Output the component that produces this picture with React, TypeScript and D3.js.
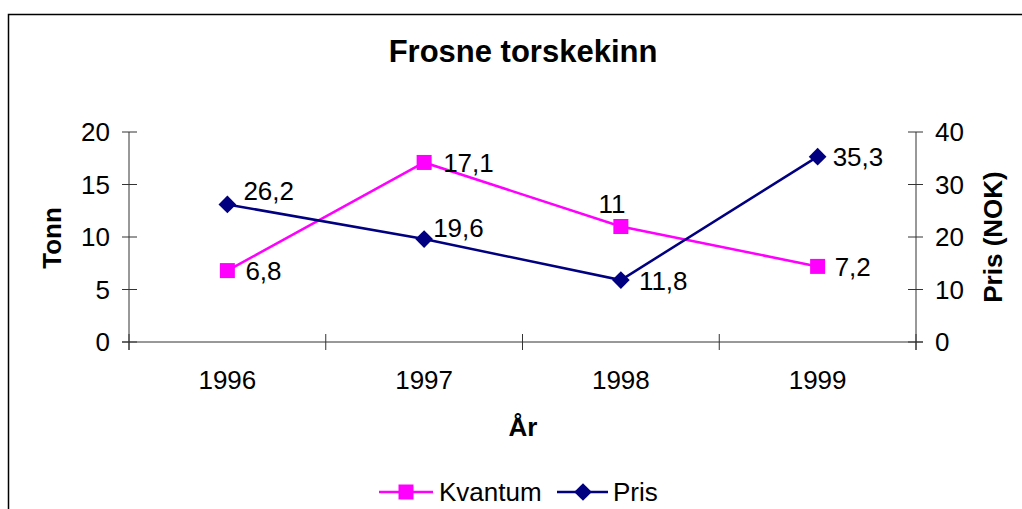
import { useEffect, useRef } from "react";
import * as d3 from "d3";

const years = ["1996", "1997", "1998", "1999"];
const kvantum = [6.8, 17.1, 11, 7.2];
const pris = [26.2, 19.6, 11.8, 35.3];
const leftTicks = [0, 5, 10, 15, 20];
const rightTicks = [0, 10, 20, 30, 40];

// label offsets from the marker (dx, dy of the text centre)
const kvantumLabelOffset = [[18, 0], [19, 0], [-9, -23], [17, 0]];
const prisLabelOffset = [[16, -14], [9, -11], [18, 1], [15, 0]];

const width = 1022;
const height = 509;
const margin = { left: 129, right: 106, top: 132, bottom: 167 };
const font = "Arial, 'Liberation Sans', sans-serif";
const fs = 26;
const magenta = "#ff00ff";
const navy = "#000080";

const fmt = (v: number) => String(v).replace(".", ",");

const App = () => {
  const ref = useRef<SVGSVGElement | null>(null);

  useEffect(() => {
    if (!ref.current) return;
    const svg = d3.select(ref.current);
    svg.selectAll("*").remove();

    const x0 = margin.left;
    const x1 = width - margin.right;
    const y0 = height - margin.bottom;
    const y1 = margin.top;

    const xScale = d3.scaleBand().domain(years).range([x0, x1]).padding(0);
    const cx = (d: string) => (xScale(d) as number) + xScale.bandwidth() / 2;
    const yLeft = d3.scaleLinear().domain([0, 20]).range([y0, y1]);
    const yRight = d3.scaleLinear().domain([0, 40]).range([y0, y1]);

    // chart frame
    svg
      .append("rect")
      .attr("x", 8.5)
      .attr("y", 14.5)
      .attr("width", 1030)
      .attr("height", 520)
      .attr("fill", "white")
      .attr("stroke", "#000")
      .attr("stroke-width", 1.5);

    svg
      .append("text")
      .attr("x", 523)
      .attr("y", 62)
      .attr("text-anchor", "middle")
      .attr("font-family", font)
      .attr("font-weight", "bold")
      .attr("font-size", 31)
      .text("Frosne torskekinn");

    const axisColor = "#333";

    // left axis
    const gl = svg.append("g");
    gl.append("line").attr("x1", x0).attr("x2", x0).attr("y1", y1).attr("y2", y0 + 8).attr("stroke", axisColor);
    gl.selectAll("line.t")
      .data(leftTicks)
      .join("line")
      .attr("class", "t")
      .attr("x1", x0 - 7)
      .attr("x2", x0 + 8)
      .attr("y1", (d) => yLeft(d))
      .attr("y2", (d) => yLeft(d))
      .attr("stroke", axisColor);
    gl.selectAll("text")
      .data(leftTicks)
      .join("text")
      .attr("x", x0 - 19)
      .attr("y", (d) => yLeft(d))
      .attr("dy", "0.36em")
      .attr("text-anchor", "end")
      .attr("font-family", font)
      .attr("font-size", fs)
      .text((d) => d);

    // right axis
    const gr = svg.append("g");
    gr.append("line").attr("x1", x1).attr("x2", x1).attr("y1", y1).attr("y2", y0 + 8).attr("stroke", axisColor);
    gr.selectAll("line.t")
      .data(rightTicks)
      .join("line")
      .attr("class", "t")
      .attr("x1", x1 - 8)
      .attr("x2", x1 + 7)
      .attr("y1", (d) => yRight(d))
      .attr("y2", (d) => yRight(d))
      .attr("stroke", axisColor);
    gr.selectAll("text")
      .data(rightTicks)
      .join("text")
      .attr("x", x1 + 19)
      .attr("y", (d) => yRight(d))
      .attr("dy", "0.36em")
      .attr("font-family", font)
      .attr("font-size", fs)
      .text((d) => d);

    // bottom axis
    const gb = svg.append("g");
    gb.append("line").attr("x1", x0 - 7).attr("x2", x1 + 7).attr("y1", y0).attr("y2", y0).attr("stroke", axisColor);
    const bounds = years.map((d) => xScale(d) as number).concat([x1]);
    gb.selectAll("line.t")
      .data(bounds)
      .join("line")
      .attr("class", "t")
      .attr("x1", (d) => d)
      .attr("x2", (d) => d)
      .attr("y1", y0 - 8)
      .attr("y2", y0 + 8)
      .attr("stroke", axisColor);
    gb.selectAll("text")
      .data(years)
      .join("text")
      .attr("x", (d) => cx(d))
      .attr("y", y0 + 47)
      .attr("text-anchor", "middle")
      .attr("font-family", font)
      .attr("font-size", fs)
      .text((d) => d);

    // axis titles
    svg
      .append("text")
      .attr("x", 523)
      .attr("y", 436)
      .attr("text-anchor", "middle")
      .attr("font-family", font)
      .attr("font-weight", "bold")
      .attr("font-size", fs)
      .text("År");
    svg
      .append("text")
      .attr("transform", "translate(61,238) rotate(-90)")
      .attr("text-anchor", "middle")
      .attr("font-family", font)
      .attr("font-weight", "bold")
      .attr("font-size", fs)
      .text("Tonn");
    svg
      .append("text")
      .attr("transform", "translate(1002,237) rotate(-90)")
      .attr("text-anchor", "middle")
      .attr("font-family", font)
      .attr("font-weight", "bold")
      .attr("font-size", fs)
      .text("Pris (NOK)");

    // Kvantum series
    const kLine = d3
      .line<number>()
      .x((_, i) => cx(years[i]))
      .y((d) => yLeft(d));
    svg
      .append("path")
      .attr("d", kLine(kvantum))
      .attr("fill", "none")
      .attr("stroke", magenta)
      .attr("stroke-width", 2.5);
    svg
      .append("g")
      .selectAll("rect")
      .data(kvantum)
      .join("rect")
      .attr("x", (_, i) => cx(years[i]) - 7.5)
      .attr("y", (d) => yLeft(d) - 7.5)
      .attr("width", 15)
      .attr("height", 15)
      .attr("fill", magenta);

    // Pris series
    const pLine = d3
      .line<number>()
      .x((_, i) => cx(years[i]))
      .y((d) => yRight(d));
    svg
      .append("path")
      .attr("d", pLine(pris))
      .attr("fill", "none")
      .attr("stroke", navy)
      .attr("stroke-width", 2.5);
    const diamond = d3.symbol().type(d3.symbolDiamond2).size(200);
    svg
      .append("g")
      .selectAll("path")
      .data(pris)
      .join("path")
      .attr("d", diamond)
      .attr("transform", (d, i) => `translate(${cx(years[i])},${yRight(d)})`)
      .attr("fill", navy);

    // data labels
    const labels = svg.append("g").attr("font-family", font).attr("font-size", fs);
    labels
      .selectAll("text.k")
      .data(kvantum)
      .join("text")
      .attr("class", "k")
      .attr("x", (_, i) => cx(years[i]) + kvantumLabelOffset[i][0])
      .attr("y", (d, i) => yLeft(d) + kvantumLabelOffset[i][1])
      .attr("dy", "0.36em")
      .attr("text-anchor", (_, i) => (kvantumLabelOffset[i][0] < 0 ? "middle" : "start"))
      .text((d) => fmt(d));
    labels
      .selectAll("text.p")
      .data(pris)
      .join("text")
      .attr("class", "p")
      .attr("x", (_, i) => cx(years[i]) + prisLabelOffset[i][0])
      .attr("y", (d, i) => yRight(d) + prisLabelOffset[i][1])
      .attr("dy", "0.36em")
      .text((d) => fmt(d));

    // legend
    const legend = svg.append("g").attr("font-family", font).attr("font-size", fs);
    const ly = 492;
    legend.append("line").attr("x1", 379).attr("x2", 433).attr("y1", ly).attr("y2", ly).attr("stroke", magenta).attr("stroke-width", 2.5);
    legend.append("rect").attr("x", 406 - 7.5).attr("y", ly - 7.5).attr("width", 15).attr("height", 15).attr("fill", magenta);
    legend.append("text").attr("x", 439).attr("y", ly).attr("dy", "0.36em").text("Kvantum");
    legend.append("line").attr("x1", 557).attr("x2", 608).attr("y1", ly).attr("y2", ly).attr("stroke", navy).attr("stroke-width", 2.5);
    legend.append("path").attr("d", diamond).attr("transform", `translate(583,${ly})`).attr("fill", navy);
    legend.append("text").attr("x", 613).attr("y", ly).attr("dy", "0.36em").text("Pris");
  }, []);

  return (
    <svg
      ref={ref}
      width={width}
      height={height}
      style={{ position: "absolute", left: 0, top: 0, background: "white" }}
    />
  );
};

export default App;
